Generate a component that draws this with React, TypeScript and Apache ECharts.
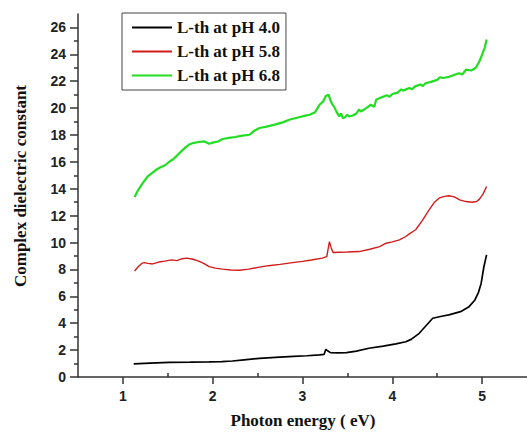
import React, { useEffect, useRef } from "react";
import * as echarts from "echarts";

// Photon energy (eV) and complex dielectric constant for each sample
const energyPH40 = [1.12, 1.3, 1.52, 1.75, 1.96, 2.1, 2.22, 2.35, 2.52, 2.7, 2.9, 3.05, 3.19, 3.24, 3.26, 3.28, 3.31, 3.4, 3.49, 3.6, 3.74, 3.9, 4.04, 4.15, 4.21, 4.3, 4.38, 4.45, 4.55, 4.63, 4.76, 4.85, 4.92, 4.96, 4.99, 5.02, 5.05];
const valuePH40 = [0.97, 1.03, 1.09, 1.1, 1.12, 1.15, 1.19, 1.28, 1.39, 1.46, 1.53, 1.58, 1.64, 1.68, 2.06, 1.95, 1.81, 1.8, 1.81, 1.92, 2.14, 2.3, 2.46, 2.62, 2.8, 3.25, 3.85, 4.37, 4.52, 4.62, 4.86, 5.2, 5.73, 6.3, 6.98, 8.2, 9.08];

const energyPH58 = [1.13, 1.17, 1.21, 1.24, 1.28, 1.33, 1.4, 1.47, 1.54, 1.6, 1.66, 1.71, 1.77, 1.83, 1.9, 1.96, 2.03, 2.11, 2.2, 2.3, 2.4, 2.52, 2.62, 2.75, 2.89, 3.0, 3.1, 3.22, 3.27, 3.3, 3.32, 3.34, 3.4, 3.5, 3.63, 3.75, 3.86, 3.93, 4.0, 4.08, 4.15, 4.19, 4.26, 4.33, 4.41, 4.47, 4.52, 4.57, 4.63, 4.69, 4.75, 4.82, 4.89, 4.94, 4.97, 5.01, 5.05];
const valuePH58 = [7.89, 8.2, 8.45, 8.51, 8.45, 8.41, 8.55, 8.62, 8.71, 8.66, 8.8, 8.84, 8.78, 8.66, 8.45, 8.21, 8.1, 8.02, 7.96, 7.94, 8.02, 8.17, 8.28, 8.38, 8.51, 8.6, 8.7, 8.84, 8.95, 10.07, 9.6, 9.26, 9.28, 9.3, 9.33, 9.5, 9.7, 9.95, 10.05, 10.2, 10.45, 10.65, 10.95, 11.6, 12.43, 13.0, 13.3, 13.42, 13.48, 13.4, 13.18, 13.05, 13.0, 13.05, 13.23, 13.6, 14.17];

const energyPH68 = [1.13, 1.17, 1.22, 1.28, 1.33, 1.37, 1.42, 1.47, 1.52, 1.56, 1.6, 1.65, 1.7, 1.74, 1.78, 1.84, 1.91, 1.96, 2.01, 2.06, 2.11, 2.18, 2.25, 2.33, 2.41, 2.46, 2.52, 2.6, 2.68, 2.78, 2.86, 2.95, 3.02, 3.08, 3.14, 3.19, 3.23, 3.26, 3.29, 3.31, 3.33, 3.35, 3.38, 3.41, 3.43, 3.45, 3.47, 3.5, 3.52, 3.56, 3.6, 3.63, 3.65, 3.71, 3.76, 3.8, 3.82, 3.88, 3.94, 3.97, 4.0, 4.06, 4.1, 4.12, 4.19, 4.22, 4.25, 4.31, 4.34, 4.37, 4.43, 4.5, 4.53, 4.56, 4.62, 4.68, 4.74, 4.78, 4.82, 4.88, 4.93, 4.97, 5.0, 5.03, 5.05];
const valuePH68 = [13.38, 13.9, 14.42, 14.95, 15.2, 15.41, 15.6, 15.75, 16.03, 16.2, 16.45, 16.78, 17.1, 17.3, 17.4, 17.48, 17.52, 17.35, 17.45, 17.52, 17.7, 17.78, 17.85, 17.95, 18.02, 18.3, 18.52, 18.62, 18.75, 18.94, 19.15, 19.3, 19.42, 19.51, 19.7, 20.25, 20.5, 20.9, 21.0, 20.6, 20.3, 20.13, 19.7, 19.38, 19.6, 19.25, 19.3, 19.5, 19.38, 19.45, 19.6, 19.9, 19.75, 20.0, 20.25, 20.1, 20.62, 20.8, 20.95, 20.85, 21.05, 21.15, 21.4, 21.3, 21.5, 21.4, 21.6, 21.75, 21.65, 21.85, 21.95, 22.1, 22.3, 22.24, 22.3, 22.45, 22.6, 22.5, 22.86, 22.8, 23.0, 23.48, 23.98, 24.5, 25.1];

const seriesNames = ["L-th at pH 4.0", "L-th at pH 5.8", "L-th at pH 6.8"];
const seriesColors = ["#000000", "#d01c1c", "#22dd22"];

// Tick positions
const xMajorTicks = [1, 2, 3, 4, 5];
const xMinorTicks = [1.5, 2.5, 3.5, 4.5];
const yMajorTicks = [0, 2, 4, 6, 8, 10, 12, 14, 16, 18, 20, 22, 24, 26];
const yMinorTicks = [1, 3, 5, 7, 9, 11, 13, 15, 17, 19, 21, 23, 25];

const pair = (xs: number[], ys: number[]) => xs.map((v, i) => [v, ys[i]]);

const axisColor = "#333";
const serif = "Liberation Serif, Times New Roman, serif";
const labelFont = {
  fontFamily: "Liberation Sans, Arial, sans-serif",
  fontWeight: "bold" as const,
  fontSize: 14,
  color: "#222",
};

export default function App() {
  const ref = useRef<HTMLDivElement>(null);

  useEffect(() => {
    if (!ref.current) return;
    const chart = echarts.init(ref.current, null, { renderer: "svg" });

    const baseX = { type: "value" as const, min: 0.5, max: 5.5, gridIndex: 0 };
    const baseY = { type: "value" as const, min: 0, max: 27, gridIndex: 0 };

    chart.setOption({
      animation: false,
      backgroundColor: "#fff",
      grid: { left: 78, right: 0, top: 14, bottom: 55 },
      legend: {
        orient: "vertical",
        left: 122,
        top: 13,
        padding: [6, 6, 6, 9],
        itemWidth: 40,
        itemHeight: 15,
        itemGap: 7,
        borderColor: "#444",
        borderWidth: 1,
        itemStyle: { opacity: 0 },
        data: seriesNames,
        textStyle: {
          fontFamily: serif,
          fontWeight: "bold",
          fontSize: 17,
          color: "#111",
        },
      },
      xAxis: [
        {
          ...baseX,
          axisLine: { lineStyle: { color: axisColor, width: 1.5 } },
          splitLine: { show: false },
          axisTick: { customValues: xMajorTicks, length: 7, lineStyle: { color: axisColor, width: 1.5 } },
          axisLabel: { customValues: xMajorTicks, margin: 12, ...labelFont },
        },
        {
          ...baseX,
          axisLine: { show: false },
          splitLine: { show: false },
          axisTick: { customValues: xMinorTicks, length: 4, lineStyle: { color: axisColor, width: 1.5 } },
          axisLabel: { show: false },
        },
      ],
      yAxis: [
        {
          ...baseY,
          axisLine: { show: true, lineStyle: { color: axisColor, width: 1.5 } },
          splitLine: { show: false },
          axisTick: { show: true, customValues: yMajorTicks, length: 8, lineStyle: { color: axisColor, width: 1.5 } },
          axisLabel: { customValues: yMajorTicks, margin: 12, ...labelFont },
        },
        {
          ...baseY,
          position: "left",
          axisLine: { show: false },
          splitLine: { show: false },
          axisTick: { show: true, customValues: yMinorTicks, length: 4, lineStyle: { color: axisColor, width: 1.5 } },
          axisLabel: { show: false },
        },
      ],
      graphic: [
        {
          type: "text",
          x: 20,
          y: 186,
          rotation: Math.PI / 2,
          style: {
            text: "Complex dielectric constant",
            fontFamily: serif,
            fontWeight: "bold",
            fontSize: 17,
            fill: "#111",
            align: "center",
            verticalAlign: "middle",
          },
        },
        {
          type: "text",
          x: 303,
          y: 420,
          style: {
            text: "Photon energy ( eV)",
            fontFamily: serif,
            fontWeight: "bold",
            fontSize: 17,
            fill: "#111",
            align: "center",
            verticalAlign: "middle",
          },
        },
      ],
      series: [
        { x: energyPH40, y: valuePH40, w: 1.7 },
        { x: energyPH58, y: valuePH58, w: 1.4 },
        { x: energyPH68, y: valuePH68, w: 2.2 },
      ].map((s, i) => ({
        type: "line",
        name: seriesNames[i],
        data: pair(s.x, s.y),
        symbol: "none",
        color: seriesColors[i],
        lineStyle: { color: seriesColors[i], width: s.w },
        xAxisIndex: 0,
        yAxisIndex: 0,
      })),
    });

    return () => chart.dispose();
  }, []);

  return <div ref={ref} style={{ width: 527, height: 432, position: "absolute", left: 0, top: 0 }} />;
}
